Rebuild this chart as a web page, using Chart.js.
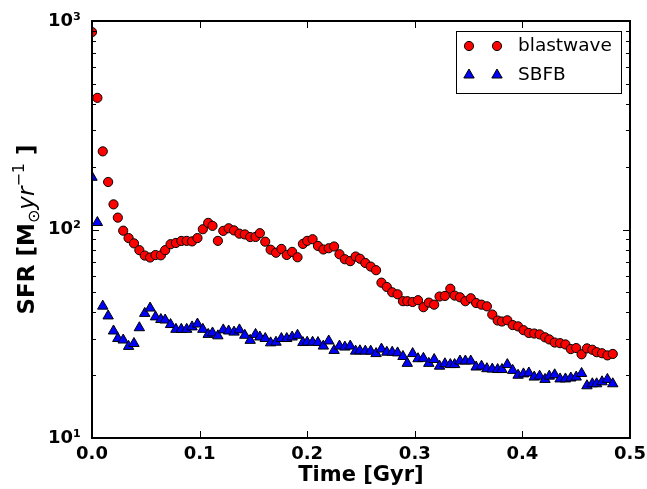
<!DOCTYPE html>
<html>
<head>
<meta charset="utf-8">
<script src="https://cdn.jsdelivr.net/npm/chart.js@4.4.0/dist/chart.umd.min.js"></script>
<style>
  html, body { margin: 0; padding: 0; background: #fff; }
  #wrap { width: 647px; height: 489px; }
</style>
</head>
<body>
<div id="wrap"><canvas id="chart" width="647" height="489"></canvas></div>
<script>
// snapshot times (Gyr)
const times = [
  0.000, 0.005, 0.010, 0.015, 0.020, 0.024, 0.029, 0.034, 0.039, 0.044,
  0.049, 0.054, 0.059, 0.064, 0.068, 0.073, 0.078, 0.083, 0.088, 0.093,
  0.098, 0.103, 0.108, 0.112, 0.117, 0.122, 0.127, 0.132, 0.137, 0.142,
  0.147, 0.152, 0.156, 0.161, 0.166, 0.171, 0.176, 0.181, 0.186, 0.191,
  0.196, 0.200, 0.205, 0.210, 0.215, 0.220, 0.225, 0.230, 0.235, 0.240,
  0.245, 0.249, 0.254, 0.259, 0.264, 0.269, 0.274, 0.279, 0.284, 0.289,
  0.293, 0.298, 0.303, 0.308, 0.313, 0.318, 0.323, 0.328, 0.333, 0.337,
  0.342, 0.347, 0.352, 0.357, 0.362, 0.367, 0.372, 0.377, 0.381, 0.386,
  0.391, 0.396, 0.401, 0.406, 0.411, 0.416, 0.421, 0.425, 0.430, 0.435,
  0.440, 0.445, 0.450, 0.455, 0.460, 0.465, 0.469, 0.474, 0.479, 0.484
];

// SFR, blastwave feedback
const blastwave = [
  885, 428, 237, 169, 132, 114, 98.7, 91.0, 85.8, 79.6,
  75.0, 73.4, 75.4, 75.2, 79.6, 85.0, 86.2, 88.1, 88.2, 87.7,
  91.0, 100.3, 107.6, 104.1, 88.2, 98.5, 101.4, 99.0, 95.5, 94.7,
  92.0, 92.1, 96.0, 87.4, 80.0, 77.4, 80.7, 75.5, 78.1, 73.6,
  85.3, 88.2, 89.8, 83.4, 80.2, 81.3, 82.9, 76.1, 72.0, 70.5,
  74.2, 72.4, 69.1, 66.4, 63.8, 55.6, 53.0, 50.0, 48.9, 45.3,
  45.3, 44.9, 45.8, 42.4, 44.6, 43.6, 47.7, 48.0, 52.0, 48.2,
  47.3, 45.3, 46.8, 44.4, 43.6, 42.8, 39.1, 36.6, 36.2, 36.7,
  34.8, 34.3, 32.9, 31.9, 31.7, 31.4, 30.4, 29.7, 28.7, 28.5,
  28.1, 26.7, 27.0, 25.2, 26.9, 26.5, 25.8, 25.5, 24.9, 25.3
];

// SFR, SBFB feedback
const sbfb = [
  178, 108, 42.9, 38.5, 32.6, 30.0, 29.5, 27.5, 28.4, 33.8,
  39.6, 42.0, 38.1, 37.0, 36.8, 35.0, 33.2, 33.2, 33.2, 34.1,
  35.2, 33.2, 31.4, 31.9, 30.9, 33.0, 32.6, 32.2, 33.0, 31.1,
  29.4, 31.4, 30.5, 30.0, 28.6, 28.8, 30.0, 30.0, 30.5, 31.1,
  28.7, 28.8, 28.8, 28.7, 27.6, 29.2, 26.3, 27.6, 27.3, 27.6,
  26.1, 26.2, 26.1, 26.1, 25.4, 26.7, 25.8, 25.8, 25.6, 24.6,
  22.8, 25.4, 24.0, 24.1, 22.8, 23.8, 22.1, 22.7, 22.5, 22.5,
  23.4, 23.4, 23.4, 21.9, 22.1, 21.5, 21.4, 21.3, 21.3, 22.5,
  21.1, 20.0, 20.3, 20.5, 19.6, 19.8, 19.1, 19.8, 20.1, 19.2,
  19.2, 19.4, 19.6, 20.4, 17.8, 18.2, 18.2, 18.6, 19.1, 18.2
];

const xTicks = [0, 0.1, 0.2, 0.3, 0.4, 0.5];
const yDecades = [10, 100, 1000];
const yDecadeLabels = ['10\u00b9', '10\u00b2', '10\u00b3'];
const yMinorSteps = [1, 2, 3, 4, 5, 6, 7, 8, 9];

const FONT = '"DejaVu Sans", "Liberation Sans", sans-serif';

function toPoints(ys) {
  return times.map((t, i) => ({ x: t, y: ys[i] }));
}

// inward ticks on all four sides + thick frame
const frame = {
  id: 'frame',
  afterDatasetsDraw(chart) {
    const { ctx, chartArea: a, scales: { x, y } } = chart;
    ctx.save();
    ctx.strokeStyle = '#000';
    ctx.lineWidth = 1;
    ctx.beginPath();
    x.ticks.forEach(t => {
      const px = Math.round(x.getPixelForValue(t.value)) + 0.5;
      ctx.moveTo(px, a.bottom); ctx.lineTo(px, a.bottom - 7);
      ctx.moveTo(px, a.top); ctx.lineTo(px, a.top + 7);
    });
    y.ticks.forEach(t => {
      const py = Math.round(y.getPixelForValue(t.value)) + 0.5;
      const len = yDecades.includes(t.value) ? 7 : 4;
      ctx.moveTo(a.left, py); ctx.lineTo(a.left + len, py);
      ctx.moveTo(a.right, py); ctx.lineTo(a.right - len, py);
    });
    ctx.stroke();
    ctx.lineWidth = 2;
    ctx.strokeRect(a.left, a.top, a.right - a.left, a.bottom - a.top);
    ctx.restore();
  }
};

// matplotlib-style legend with two markers per entry
const legendBox = {
  id: 'legendBox',
  afterDraw(chart) {
    const { ctx, chartArea: a } = chart;
    const bx = a.right - 174, by = a.top + 10, bw = 165, bh = 62;
    ctx.save();
    ctx.fillStyle = '#fff';
    ctx.fillRect(bx, by, bw, bh);
    ctx.strokeStyle = '#000';
    ctx.lineWidth = 1;
    ctx.strokeRect(bx + 0.5, by + 0.5, bw, bh);
    chart.data.datasets.forEach((ds, i) => {
      const cy = by + 15 + i * 29;
      [bx + 13, bx + 41].forEach(cx => {
        ctx.fillStyle = ds.pointBackgroundColor;
        ctx.strokeStyle = ds.pointBorderColor;
        ctx.lineWidth = ds.pointBorderWidth;
        Chart.helpers.drawPoint(ctx, {
          pointStyle: ds.pointStyle, radius: ds.pointRadius,
          borderWidth: ds.pointBorderWidth, rotation: 0
        }, cx, cy);
      });
      ctx.fillStyle = '#000';
      ctx.font = '18.5px ' + FONT;
      ctx.textBaseline = 'middle';
      ctx.textAlign = 'left';
      ctx.fillText(ds.label, bx + 62, cy);
    });
    ctx.restore();
  }
};

// y label with subscript / superscript pieces
const yTitle = {
  id: 'yTitle',
  afterDraw(chart) {
    const { ctx, chartArea: a } = chart;
    const parts = [
      { t: 'SFR [M', f: 'bold 23px ' + FONT, dy: 0 },
      { t: '\u2299', f: '16px ' + FONT, dy: 5 },
      { t: 'yr', f: 'italic 23px ' + FONT, dy: 0 },
      { t: '\u22121', f: '16px ' + FONT, dy: -10 },
      { t: ' ]', f: 'bold 23px ' + FONT, dy: 0 }
    ];
    ctx.save();
    let total = 0;
    parts.forEach(p => { ctx.font = p.f; p.w = ctx.measureText(p.t).width; total += p.w; });
    ctx.translate(34, (a.top + a.bottom) / 2);
    ctx.rotate(-Math.PI / 2);
    ctx.fillStyle = '#000';
    ctx.textBaseline = 'alphabetic';
    ctx.textAlign = 'left';
    let px = -total / 2;
    parts.forEach(p => { ctx.font = p.f; ctx.fillText(p.t, px, p.dy); px += p.w; });
    ctx.restore();
  }
};

new Chart(document.getElementById('chart'), {
  type: 'scatter',
  data: {
    datasets: [
      {
        label: 'blastwave',
        data: toPoints(blastwave),
        showLine: false,
        pointStyle: 'circle',
        pointRadius: 4.6,
        pointBackgroundColor: '#ff0000',
        pointBorderColor: '#000',
        pointBorderWidth: 1,
        clip: 0
      },
      {
        label: 'SBFB',
        data: toPoints(sbfb),
        showLine: false,
        pointStyle: 'triangle',
        pointRadius: 6,
        pointBackgroundColor: '#0000ff',
        pointBorderColor: '#000',
        pointBorderWidth: 1,
        clip: 0
      }
    ]
  },
  options: {
    responsive: false,
    animation: false,
    devicePixelRatio: 1,
    layout: { padding: { left: 0, right: 17, top: 21, bottom: 0 } },
    plugins: { legend: { display: false }, tooltip: { enabled: false } },
    scales: {
      x: {
        type: 'linear',
        min: 0,
        max: 0.5,
        afterBuildTicks: s => { s.ticks = xTicks.map(v => ({ value: v })); },
        afterFit: s => { s.height = 51; s.paddingLeft = 0; s.paddingRight = 0; },
        grid: { display: false, drawTicks: false },
        border: { display: false },
        ticks: {
          padding: 6,
          color: '#000',
          autoSkip: false,
          maxRotation: 0,
          font: { family: FONT, weight: 'bold', size: 18 },
          callback: v => v.toFixed(1)
        },
        title: {
          display: true,
          text: 'Time [Gyr]',
          color: '#000',
          font: { family: FONT, weight: 'bold', size: 21 },
          padding: { top: 0, bottom: 1 }
        }
      },
      y: {
        type: 'logarithmic',
        min: 10,
        max: 1000,
        afterBuildTicks: s => {
          const vals = [];
          yDecades.slice(0, 2).forEach(d => yMinorSteps.forEach(m => vals.push(d * m)));
          vals.push(1000);
          s.ticks = vals.map(v => ({ value: v }));
        },
        afterFit: s => { s.width = 92; s.paddingTop = 0; s.paddingBottom = 0; },
        grid: { display: false, drawTicks: false },
        border: { display: false },
        ticks: {
          padding: 11,
          color: '#000',
          autoSkip: false,
          font: { family: FONT, weight: 'bold', size: 18 },
          callback: v => {
            const k = yDecades.indexOf(v);
            return k >= 0 ? yDecadeLabels[k] : '';
          }
        }
      }
    }
  },
  plugins: [frame, legendBox, yTitle]
});
</script>
</body>
</html>
